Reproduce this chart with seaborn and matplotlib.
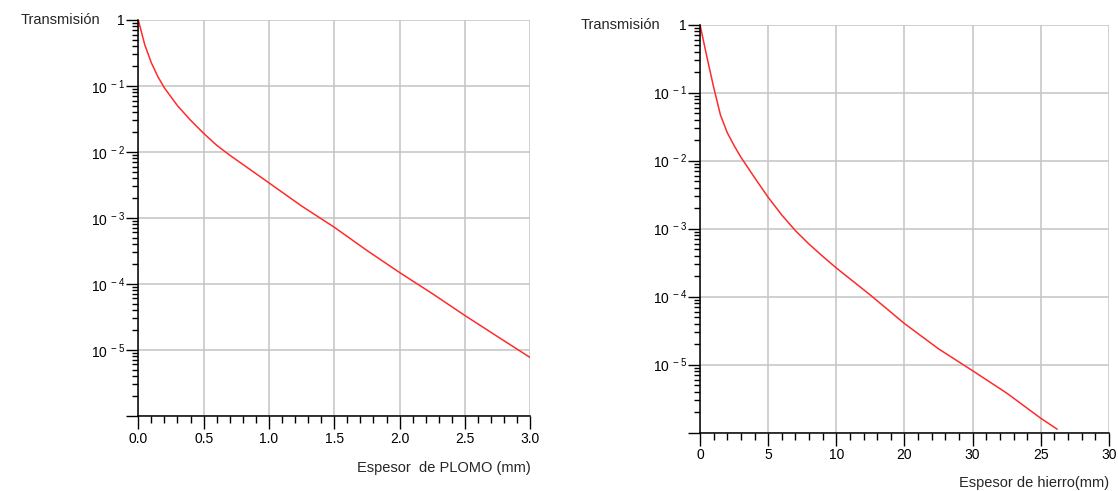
import numpy as np
import pandas as pd
import matplotlib
matplotlib.use("Agg")
import matplotlib.pyplot as plt
import matplotlib.ticker as mticker
import seaborn as sns

# ---------------------------
# Data
# ---------------------------
LEAD_MM = [0.0, 0.05, 0.1, 0.15, 0.2, 0.3, 0.4, 0.5, 0.6, 0.7, 0.8, 1.0,
           1.25, 1.5, 1.75, 2.0, 2.25, 2.5, 2.75, 3.0]
LEAD_T = [1.0, 0.417, 0.224, 0.138, 0.0933, 0.0501, 0.0302, 0.0191, 0.0126,
          0.0089, 0.00646, 0.00339, 0.00151, 7.2e-4, 3.2e-4, 1.48e-4,
          7.1e-5, 3.3e-5, 1.58e-5, 7.6e-6]

IRON_MM = [0.0, 0.5, 1.0, 1.5, 2.0, 2.5, 3.0, 4.0, 5.0, 6.0, 7.0, 8.0, 9.0,
           10.0, 12.5, 15.0, 17.5, 20.0, 22.5, 25.0, 26.2]
IRON_T = [1.0, 0.339, 0.120, 0.0468, 0.0257, 0.0166, 0.0112, 0.00562,
          0.00288, 0.00158, 9.3e-4, 5.9e-4, 3.9e-4, 2.63e-4, 1.05e-4, 4.0e-5,
          1.7e-5, 8.1e-6, 3.8e-6, 1.62e-6, 1.12e-6]

Y_TICKS = [1, 1e-1, 1e-2, 1e-3, 1e-4, 1e-5, 1e-6]
Y_LABELS = ["1", r"$10^{\ -1}$", r"$10^{\ -2}$", r"$10^{\ -3}$",
            r"$10^{\ -4}$", r"$10^{\ -5}$", ""]

LEAD_XTICKS = [0.0, 0.5, 1.0, 1.5, 2.0, 2.5, 3.0]
LEAD_XLABELS = ["0.0", "0.5", "1.0", "1.5", "2.0", "2.5", "3.0"]
IRON_XTICKS = [0, 5, 10, 15, 20, 25, 30]
IRON_XLABELS = ["0", "5", "10", "20", "30", "25", "30"]  # as printed

RED = "#ff2a2a"
GRID = "#c4c4c4"

sns.set_style("ticks")
plt.rcParams["font.family"] = ["Liberation Sans", "DejaVu Sans"]
plt.rcParams["mathtext.fontset"] = "custom"
plt.rcParams["mathtext.rm"] = "Liberation Sans"
plt.rcParams["mathtext.it"] = "Liberation Sans"
plt.rcParams["mathtext.default"] = "regular"


def style_axes(ax, xmax, xticks, xlabels, minor_step, xlabel, label_y):
    ax.set_yscale("log")
    ax.set_ylim(1e-6, 1)
    ax.set_xlim(0, xmax)
    ax.set_yticks(Y_TICKS)
    ax.set_yticklabels(Y_LABELS)
    ax.yaxis.set_minor_locator(mticker.LogLocator(base=10, subs=np.arange(2, 10)))
    ax.yaxis.set_minor_formatter(mticker.NullFormatter())
    ax.set_xticks(xticks)
    ax.set_xticklabels(xlabels)
    ax.xaxis.set_minor_locator(mticker.MultipleLocator(minor_step))

    ax.grid(True, which="major", color=GRID, linewidth=1.1)
    ax.set_axisbelow(True)
    for side in ["top", "right"]:
        ax.spines[side].set_visible(False)
    for side in ["left", "bottom"]:
        ax.spines[side].set_color("black")
        ax.spines[side].set_linewidth(1.1)

    ax.tick_params(axis="x", which="both", bottom=True, top=False)
    ax.tick_params(axis="y", which="both", left=True, right=False)
    ax.tick_params(axis="x", which="major", direction="out", length=9.5,
                   width=1.0, pad=2, labelsize=10, colors="black")
    ax.tick_params(axis="x", which="minor", direction="out", length=5,
                   width=1.0, colors="black")
    ax.tick_params(axis="y", which="major", direction="out", length=8.5,
                   width=1.0, pad=1, labelsize=10, colors="black")
    ax.tick_params(axis="y", which="minor", direction="out", length=4.3,
                   width=1.0, colors="black")

    ax.set_xlabel(xlabel, loc="right", fontsize=10.5)
    ax.xaxis.set_label_coords(1.0, label_y)
    ax.set_ylabel("")
    ax.text(-0.098, 1.0, "Transmisión", transform=ax.transAxes,
            ha="right", va="center", fontsize=10.5)


fig = plt.figure(figsize=(11.18, 4.91), dpi=100)
ax1 = fig.add_axes([0.1237, 0.1534, 0.3506, 0.8059])
ax2 = fig.add_axes([0.6261, 0.1191, 0.3658, 0.8310])

lead = pd.DataFrame({"mm": LEAD_MM, "t": LEAD_T})
iron = pd.DataFrame({"mm": IRON_MM, "t": IRON_T})

sns.lineplot(data=lead, x="mm", y="t", ax=ax1, color=RED, linewidth=1.1)
sns.lineplot(data=iron, x="mm", y="t", ax=ax2, color=RED, linewidth=1.1)

style_axes(ax1, 3.0, LEAD_XTICKS, LEAD_XLABELS, 0.1,
           "Espesor  de PLOMO (mm)", -0.114)
style_axes(ax2, 30, IRON_XTICKS, IRON_XLABELS, 1,
           "Espesor de hierro(mm)", -0.107)

fig.savefig("out.png", dpi=100, facecolor="white")
